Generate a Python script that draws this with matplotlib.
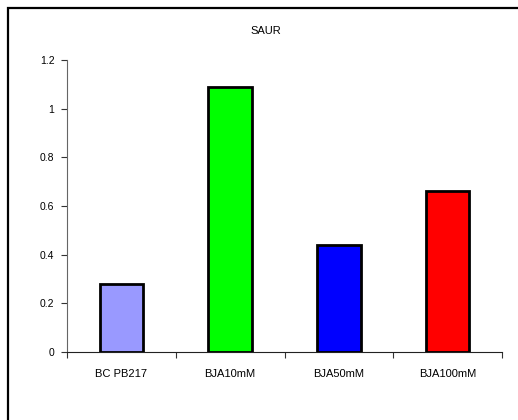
import matplotlib
matplotlib.use("Agg")
import matplotlib.pyplot as plt
from matplotlib.patches import Rectangle

categories = ["BC PB217", "BJA10mM", "BJA50mM", "BJA100mM"]
values = [0.28, 1.09, 0.44, 0.66]
colors = ["#9999FF", "#00FF00", "#0000FF", "#FF0000"]
yticks = [0, 0.2, 0.4, 0.6, 0.8, 1, 1.2]
ytick_labels = ["0", "0.2", "0.4", "0.6", "0.8", "1", "1.2"]
title = "SAUR"

plt.rcParams['font.family'] = ['Liberation Sans', 'DejaVu Sans']

W, H = 518, 420
fig = plt.figure(figsize=(W / 100, H / 100), dpi=100)

# outer chart frame (partially cropped on the right/bottom)
fig.patches.append(Rectangle((8 / W, -0.05), 1.2, 1 - 8 / H + 0.05,
                             transform=fig.transFigure, fill=False,
                             edgecolor="black", linewidth=1.6, zorder=0))

ax = fig.add_axes([67 / W, 1 - 352 / H, (502 - 67) / W, (352 - 60) / H])
x = list(range(len(categories)))
ax.bar(x, values, width=0.4, color=colors, edgecolor="black", linewidth=2.0, zorder=3)

ax.set_xlim(-0.5, len(categories) - 0.5)
ax.set_ylim(0, 1.2)
ax.set_yticks(yticks)
ax.set_yticklabels(ytick_labels)

ax.set_xticks([i - 0.5 for i in range(len(categories) + 1)])
ax.set_xticklabels([])
ax.set_xticks(x, minor=True)
ax.set_xticklabels(categories, minor=True)
ax.tick_params(axis="x", which="minor", length=0, pad=12, labelsize=8)
ax.tick_params(axis="x", which="major", length=4, direction="out", color="#333333", width=0.8)
ax.tick_params(axis="y", length=4, direction="out", labelsize=7.5, pad=5, color="#333333", width=0.8)

for s in ["top", "right"]:
    ax.spines[s].set_visible(False)
ax.spines["left"].set_color("#666666")
ax.spines["bottom"].set_color("#222222")
ax.spines["left"].set_linewidth(0.8)
ax.spines["bottom"].set_linewidth(0.8)

fig.text(266 / W, 1 - 31 / H, title, ha="center", va="center", fontsize=8)

fig.savefig("out.png", dpi=100)
